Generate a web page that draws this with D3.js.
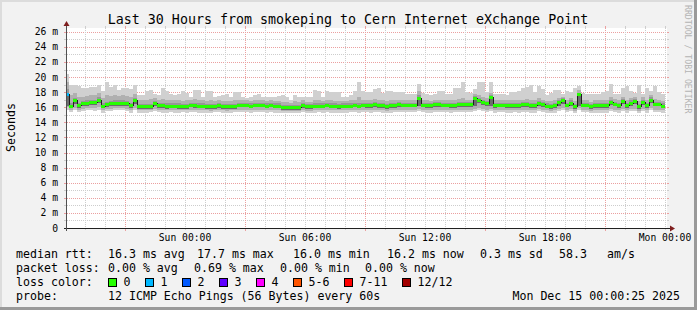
<!DOCTYPE html>
<html><head><meta charset="utf-8">
<script src="https://cdn.jsdelivr.net/npm/d3@7"></script>
<style>
html,body{margin:0;padding:0;background:#f2f2f2;}
svg{display:block;}
text{font-family:"DejaVu Sans Mono",monospace;fill:#000;}
</style>
</head><body>
<svg id="chart" width="697" height="310"></svg>
<script>
// ---------------- data ----------------
const titleText = "Last 30 Hours from smokeping to Cern Internet eXchange Point";
const yAxisTitle = "Seconds";
const watermark = "RRDTOOL / TOBI OETIKER";
const yTickValues = [0,2,4,6,8,10,12,14,16,18,20,22,24,26];
const yTickLabels = ["0","2 m","4 m","6 m","8 m","10 m","12 m","14 m","16 m","18 m","20 m","22 m","24 m","26 m"];
const xLabelTimes = ["2025-12-14T00:00:00Z","2025-12-14T06:00:00Z","2025-12-14T12:00:00Z","2025-12-14T18:00:00Z","2025-12-15T00:00:00Z"];
const xLabelTexts = ["Sun 00:00","Sun 06:00","Sun 12:00","Sun 18:00","Mon 00:00"];
const rangeStart = "2025-12-13T18:00:00Z";
const rangeEnd = "2025-12-15T00:00:00Z";
const stepMinutes = 12;

// median RTT per 12-minute step (ms)
const median = [
17.7,16.2,16.9,16.3,16.5,16.6,16.7,16.7,17.0,16.2,
16.4,16.5,16.6,16.6,16.6,16.5,16.3,16.9,16.1,16.1,
16.1,16.1,16.5,16.3,16.3,16.2,16.2,16.2,16.2,16.1,
16.1,16.35,16.3,16.2,16.2,16.1,16.1,16.1,16.25,16.1,
16.1,16.1,16.1,16.35,16.35,16.35,16.2,16.35,16.35,16.35,
16.2,16.35,16.2,16.2,16.05,16.05,16.05,16.05,16.05,16.25,
16.1,16.1,16.2,16.2,16.2,16.35,16.2,16.2,16.15,16.2,
16.2,16.2,16.35,16.2,16.35,16.25,16.25,16.4,16.25,16.25,
16.1,16.25,16.25,16.4,16.35,16.35,16.35,16.35,17.2,16.35,
16.25,16.25,16.4,16.4,16.35,16.35,16.25,16.25,16.4,16.4,
16.4,16.4,17.2,16.95,16.7,16.5,17.3,16.25,16.35,16.35,
16.25,16.25,16.25,16.25,16.4,16.4,16.25,16.25,16.55,16.4,
16.2,16.1,16.25,16.65,16.9,16.35,16.6,16.15,17.7,16.35,
16.35,16.1,16.25,16.25,16.25,16.25,16.7,16.45,16.25,16.8,
16.25,16.6,16.8,16.15,16.7,16.25,17.0,16.45,16.45,16.2
];
// lost pings (of 12) per step
const loss = [
1,0,0,0,0,0,0,0,0,0, 0,0,0,0,0,0,0,0,0,0, 0,0,0,0,0,0,0,0,0,0,
0,0,0,0,0,0,0,0,0,0, 0,0,0,0,0,0,0,0,0,0, 0,0,0,0,0,0,0,0,0,0,
0,0,0,0,0,0,0,0,0,0, 0,0,0,0,0,0,0,0,0,0, 0,0,0,0,0,0,0,0,0,0,
0,0,0,0,0,0,0,0,0,0, 0,0,0,0,0,0,0,0,0,0, 0,0,0,0,0,0,0,0,0,0,
0,0,0,0,0,0,0,0,0,0, 0,0,0,0,0,0,0,0,0,0, 0,0,0,0,0,0,0,0,0,0
];
// smoke: slowest ping (p12)
const smokeMax = [
20.4,19.0,19.0,18.8,18.5,18.5,18.7,18.7,18.9,18.1,
19.4,18.7,18.9,18.3,18.5,18.5,18.4,19.0,17.6,17.6,
18.2,18.3,17.8,17.6,18.5,18.1,17.8,17.6,17.7,18.1,
17.9,17.4,18.3,18.3,17.4,18.2,18.2,17.4,17.5,17.6,
17.8,17.3,18.0,18.0,17.4,17.2,17.3,17.6,17.7,17.4,
17.4,17.4,17.4,17.5,17.6,17.3,17.0,17.6,17.4,17.4,
17.3,17.3,18.3,18.2,17.4,18.1,18.0,18.0,18.0,17.4,
17.4,17.6,18.2,19.3,18.2,18.0,18.0,18.4,18.6,17.9,
18.1,18.1,18.0,18.0,18.0,17.8,17.7,17.7,19.1,17.9,
17.7,17.6,17.7,18.1,18.1,17.7,17.7,18.6,18.5,19.3,
18.0,17.9,18.4,19.4,19.4,18.0,19.4,17.7,17.7,17.7,
17.6,18.0,18.0,18.1,18.5,18.7,19.0,18.0,18.8,18.4,
17.6,17.9,18.3,18.3,17.8,18.1,18.0,18.5,18.8,17.9,
17.7,17.7,17.7,17.7,18.0,18.2,19.1,17.8,17.8,18.5,
18.8,18.1,17.9,19.0,17.7,18.5,18.1,18.8,18.0,17.8
];
// smoke: 11th ping (p11)
const smokeHi = [
19.3,17.6,17.9,17.3,17.4,17.5,17.6,17.6,17.9,17.2,
17.6,17.5,17.6,17.5,17.6,17.5,17.3,17.8,16.9,16.9,
17.0,17.1,17.2,17.0,17.1,16.9,16.9,16.9,17.0,16.8,
16.9,17.0,17.1,16.9,16.9,16.8,16.9,16.8,16.9,16.8,
16.8,16.8,16.9,17.0,16.9,16.9,16.8,17.0,17.0,16.9,
16.8,16.9,16.8,16.8,16.7,16.7,16.6,16.8,16.7,16.9,
16.7,16.7,16.9,16.9,16.8,17.0,16.9,16.8,16.8,16.8,
16.8,16.9,17.0,17.4,16.9,16.9,16.9,17.1,16.9,16.9,
16.8,16.9,16.9,17.0,17.0,16.9,16.9,16.9,18.2,16.9,
16.9,16.8,17.0,17.0,16.9,16.9,16.9,17.0,17.1,17.2,
17.0,17.0,17.8,17.6,17.4,17.2,17.9,16.9,16.9,16.9,
16.9,16.9,16.9,16.9,17.0,17.1,17.0,16.9,17.2,17.0,
16.8,16.8,16.9,17.2,17.4,16.9,17.2,16.8,18.3,16.9,
16.9,16.7,16.9,16.9,16.9,16.9,17.3,17.1,16.9,17.4,
16.9,17.2,17.4,16.8,17.3,16.9,17.6,17.1,17.0,16.8
];
// smoke: 10th ping (p10)
const coreHi = [
18.4,16.5,17.2,16.6,16.8,16.9,17.0,17.0,17.3,16.5,
16.7,16.8,16.9,16.9,16.9,16.8,16.6,17.2,16.4,16.4,
16.4,16.4,16.8,16.6,16.6,16.5,16.5,16.5,16.5,16.4,
16.4,16.6,16.6,16.5,16.5,16.4,16.4,16.4,16.5,16.4,
16.4,16.4,16.4,16.6,16.6,16.6,16.5,16.6,16.6,16.6,
16.5,16.6,16.5,16.5,16.3,16.3,16.3,16.3,16.3,16.5,
16.4,16.4,16.5,16.5,16.5,16.6,16.5,16.5,16.4,16.5,
16.5,16.5,16.6,16.5,16.6,16.5,16.5,16.7,16.5,16.5,
16.4,16.5,16.5,16.7,16.6,16.6,16.6,16.6,17.6,16.6,
16.5,16.5,16.7,16.7,16.6,16.6,16.5,16.5,16.7,16.7,
16.7,16.7,17.5,17.2,17.0,16.8,17.6,16.5,16.6,16.6,
16.5,16.5,16.5,16.5,16.7,16.7,16.5,16.5,16.8,16.7,
16.5,16.4,16.5,16.9,17.2,16.6,16.9,16.4,17.9,16.6,
16.6,16.4,16.5,16.5,16.5,16.5,17.0,16.7,16.5,17.1,
16.5,16.9,17.1,16.4,17.0,16.5,17.3,16.7,16.7,16.5
];
// smoke: 3rd ping (p3)
const coreLo = [
16.2,15.9,16.4,15.9,16.1,16.2,16.3,16.3,16.5,15.9,
16.0,16.1,16.2,16.2,16.2,16.1,15.9,16.4,15.8,15.8,
15.8,15.8,16.1,15.9,15.9,15.8,15.9,15.9,15.8,15.8,
15.8,16.0,15.9,15.9,15.9,15.8,15.8,15.8,15.9,15.8,
15.8,15.8,15.8,16.0,16.0,16.0,15.9,16.0,16.0,16.0,
15.9,16.0,15.9,15.9,15.7,15.7,15.7,15.7,15.7,15.9,
15.8,15.8,15.9,15.9,15.9,16.0,15.9,15.9,15.8,15.9,
15.9,15.9,16.0,15.9,16.0,15.9,15.9,16.0,15.9,15.9,
15.8,15.9,15.9,16.0,16.0,16.0,16.0,16.0,16.1,16.0,
15.9,15.9,16.0,16.0,16.0,16.0,15.9,15.9,16.0,16.0,
16.0,16.0,16.1,16.5,16.3,16.1,16.1,15.9,16.0,16.0,
15.9,15.9,15.9,15.9,16.0,16.0,15.9,15.9,16.2,16.0,
15.9,15.8,15.9,16.2,16.4,16.0,16.2,15.8,16.2,16.0,
16.0,15.8,15.9,15.9,15.9,15.9,16.3,16.1,15.9,16.4,
15.9,16.2,16.4,15.8,16.3,15.9,16.5,16.1,16.1,15.9
];
// smoke: 2nd ping (p2)
const smokeLo = [
16.0,15.7,15.9,15.7,15.8,15.9,15.9,15.9,16.0,15.6,
15.8,15.8,15.9,15.9,15.9,15.8,15.6,15.9,15.6,15.6,
15.6,15.6,15.8,15.6,15.6,15.6,15.6,15.6,15.6,15.6,
15.6,15.7,15.6,15.6,15.6,15.6,15.5,15.6,15.7,15.6,
15.5,15.6,15.6,15.7,15.7,15.7,15.6,15.7,15.7,15.7,
15.6,15.7,15.6,15.6,15.5,15.5,15.5,15.5,15.5,15.6,
15.5,15.5,15.6,15.6,15.6,15.7,15.6,15.6,15.6,15.6,
15.6,15.6,15.7,15.6,15.7,15.6,15.6,15.7,15.6,15.6,
15.5,15.6,15.6,15.7,15.7,15.7,15.7,15.7,15.8,15.7,
15.6,15.6,15.7,15.7,15.7,15.7,15.6,15.6,15.7,15.7,
15.7,15.7,15.8,15.9,15.8,15.7,15.8,15.6,15.7,15.7,
15.6,15.6,15.6,15.6,15.7,15.7,15.6,15.6,15.8,15.7,
15.6,15.5,15.6,15.8,15.9,15.7,15.8,15.5,15.9,15.7,
15.7,15.5,15.6,15.6,15.6,15.6,15.8,15.7,15.6,15.8,
15.6,15.8,15.8,15.5,15.8,15.6,15.9,15.7,15.7,15.6
];
// smoke: fastest ping (p1)
const smokeMin = [
15.7,15.4,15.6,15.4,15.5,15.6,15.6,15.5,15.7,15.3,
15.5,15.5,15.6,15.6,15.6,15.5,15.3,15.6,15.3,15.3,
15.3,15.4,15.5,15.4,15.3,15.3,15.4,15.3,15.3,15.4,
15.3,15.4,15.4,15.3,15.3,15.3,15.3,15.4,15.4,15.3,
15.3,15.3,15.4,15.4,15.4,15.4,15.3,15.4,15.4,15.4,
15.3,15.4,15.3,15.3,15.2,15.3,15.3,15.2,15.3,15.4,
15.3,15.3,15.3,15.4,15.3,15.4,15.3,15.3,15.3,15.3,
15.3,15.4,15.4,15.3,15.4,15.4,15.3,15.4,15.4,15.3,
15.3,15.3,15.4,15.4,15.4,15.4,15.4,15.4,15.5,15.4,
15.3,15.3,15.4,15.4,15.4,15.4,15.3,15.4,15.4,15.4,
15.4,15.4,15.5,15.6,15.5,15.4,15.5,15.3,15.4,15.4,
15.3,15.3,15.4,15.3,15.4,15.4,15.3,15.3,15.5,15.4,
15.3,15.2,15.3,15.5,15.6,15.4,15.5,15.3,15.6,15.4,
15.4,15.2,15.3,15.3,15.3,15.3,15.5,15.4,15.3,15.5,
15.3,15.5,15.5,15.3,15.5,15.3,15.6,15.4,15.4,15.3
];

// loss colour legend
const lossLabels = ["0","1","2","3","4","5-6","7-11","12/12"];
const lossColors = ["#26ff00","#00b8ff","#0059ff","#5e00ff","#ff00ff","#ff5500","#ff0000","#a10000"];
const lossLegendBoxX = [108,145,182,219,256,293,344,402];

// legend text rows
const legendRows = [
  {y:258, items:[["median rtt:",16],["16.3 ms avg",108],["17.7 ms max",197],["16.0 ms min",293],["16.2 ms now",387],["0.3 ms sd",480],["58.3",559],["am/s",607]]},
  {y:272, items:[["packet loss:",16],["0.00 % avg",108],["0.69 % max",194],["0.00 % min",280],["0.00 % now",365]]},
  {y:286, items:[["loss color:",16]]},
  {y:300, items:[["probe:",16],["12 ICMP Echo Pings (56 Bytes) every 60s",108]]}
];
const dateStamp = "Mon Dec 15 00:00:25 2025";

// ---------------- drawing ----------------
[median,loss,smokeMax,smokeHi,coreHi,coreLo,smokeLo,smokeMin].forEach((a,i)=>{
  if (a.length !== 150) throw new Error("array "+i+" has length "+a.length);
});

const W = 697, H = 310;
const X0 = 67, X1 = 667, Y0 = 228, Y1 = 28;
const svg = d3.select("#chart");

const x = d3.scaleUtc().domain([new Date(rangeStart), new Date(rangeEnd)]).range([65, 665]);
const y = d3.scaleLinear().domain([0, 26.5]).range([Y0, Y1]);

// background & frame
svg.append("rect").attr("x",0).attr("y",0).attr("width",W).attr("height",H).attr("fill","#f2f2f2");
svg.append("rect").attr("x",0).attr("y",0).attr("width",W).attr("height",2).attr("fill","#dcdcdc");
svg.append("rect").attr("x",0).attr("y",0).attr("width",2).attr("height",H).attr("fill","#dcdcdc");
svg.append("rect").attr("x",W-3).attr("y",0).attr("width",3).attr("height",H).attr("fill","#9a9a9a");
svg.append("rect").attr("x",0).attr("y",H-3).attr("width",W).attr("height",3).attr("fill","#9a9a9a");

// canvas
svg.append("rect").attr("x",X0).attr("y",Y1).attr("width",X1-X0).attr("height",Y0-Y1).attr("fill","#ffffff");

svg.append("clipPath").attr("id","plotclip").append("rect")
  .attr("x",X0).attr("y",Y1).attr("width",X1-X0).attr("height",Y0-Y1);

const t0 = new Date(rangeStart).getTime();
const stepMs = stepMinutes*60*1000;
const steps = median.map((m,i)=>({
  i, x0: x(new Date(t0 + i*stepMs)), x1: x(new Date(t0 + (i+1)*stepMs)),
  med: m, loss: loss[i],
  mx: smokeMax[i], hi: smokeHi[i], chi: coreHi[i], clo: coreLo[i], lo: smokeLo[i], mn: smokeMin[i]
}));

// grid (under the data)
const grid = svg.append("g").attr("shape-rendering","crispEdges");
const minorCol = "#cdcdcd", majorCol = "#eba0a0";
d3.range(1,27).forEach(v=>{
  const yy = Math.round(y(v)) + 0.5;
  const major = v % 2 === 0;
  const col = major ? majorCol : minorCol;
  grid.append("line").attr("x1",X0).attr("x2",X1).attr("y1",yy).attr("y2",yy)
    .attr("stroke",col).attr("stroke-dasharray","1,1");
  grid.append("line").attr("x1",X0-3).attr("x2",X0).attr("y1",yy).attr("y2",yy).attr("stroke",col);
  grid.append("line").attr("x1",X1).attr("x2",X1+2).attr("y1",yy).attr("y2",yy).attr("stroke",col);
});
d3.utcHour.range(new Date(rangeStart), new Date(new Date(rangeEnd).getTime()+1)).forEach(t=>{
  const xx = Math.round(x(t)) + 0.5;
  if (xx < X0 + 1 || xx > X1) return;
  const major = t.getUTCHours() % 6 === 3;
  const col = major ? majorCol : minorCol;
  grid.append("line").attr("x1",xx).attr("x2",xx).attr("y1",Y1).attr("y2",Y0)
    .attr("stroke",col).attr("stroke-dasharray","1,1");
  grid.append("line").attr("x1",xx).attr("x2",xx).attr("y1",Y0).attr("y2",Y0+(major?3:2)).attr("stroke",col);
  grid.append("line").attr("x1",xx).attr("x2",xx).attr("y1",Y1-2).attr("y2",Y1).attr("stroke",col);
});

const plot = svg.append("g").attr("clip-path","url(#plotclip)");

function layer(lowKey, highKey, color){
  plot.append("g").selectAll("rect").data(steps).join("rect")
    .attr("x", d=>d.x0).attr("width", d=>d.x1-d.x0)
    .attr("y", d=>y(d[highKey])).attr("height", d=>y(d[lowKey])-y(d[highKey]))
    .attr("fill", color).attr("shape-rendering","crispEdges");
}
layer("mn","mx","#d0d0d0");
layer("lo","hi","#b0b0b0");
layer("clo","chi","#969696");
layer("clo","med","#6c6c6c");

// median line (dark) + loss-coloured band
const medLine = d3.line().x(d=>d[0]).y(d=>d[1]).curve(d3.curveStepAfter);
const medPts = steps.map(d=>[d.x0, Math.round(y(d.med))+0.5]);
medPts.push([steps[steps.length-1].x1, Math.round(y(median[median.length-1]))+0.5]);
plot.append("path").attr("d", medLine(medPts)).attr("fill","none")
  .attr("stroke","#202020").attr("stroke-width",1).attr("shape-rendering","crispEdges");

function lossIndex(l){
  if (l <= 4) return l;
  if (l <= 6) return 5;
  if (l <= 11) return 6;
  return 7;
}
plot.append("g").selectAll("rect").data(steps).join("rect")
  .attr("x", d=>d.x0).attr("width", d=>d.x1-d.x0)
  .attr("y", d=>Math.round(y(d.med))-1).attr("height",3)
  .attr("fill", d=>lossColors[lossIndex(d.loss)]).attr("shape-rendering","crispEdges");

// axes
svg.append("line").attr("x1",X0-3).attr("x2",X1+4).attr("y1",Y0+0.5).attr("y2",Y0+0.5)
  .attr("stroke","#202020").attr("shape-rendering","crispEdges");
svg.append("line").attr("x1",X0-0.5).attr("x2",X0-0.5).attr("y1",Y0+3).attr("y2",Y1-4)
  .attr("stroke","#505050").attr("shape-rendering","crispEdges");
svg.append("path").attr("d",`M${X0-3.5},${Y1-2} L${X0+2.5},${Y1-2} L${X0-0.5},${Y1-7} Z`).attr("fill","#7f1f1f");
svg.append("path").attr("d",`M${X1+3},${Y0-2.5} L${X1+3},${Y0+3.5} L${X1+8},${Y0+0.5} Z`).attr("fill","#7f1f1f");

// y labels
svg.append("g").selectAll("text").data(yTickValues).join("text")
  .attr("x",58).attr("y",v=>y(v)+3.5).attr("text-anchor","end")
  .style("font-size","9.7px").text((v,i)=>yTickLabels[i]);

// x labels
svg.append("g").selectAll("text").data(xLabelTimes).join("text")
  .attr("x",t=>x(new Date(t))).attr("y",240.5).attr("text-anchor","middle")
  .style("font-size","9.7px").text((t,i)=>xLabelTexts[i]);

// title
svg.append("text").attr("x",348).attr("y",24).attr("text-anchor","middle")
  .style("font-size","13.3px").text(titleText);

// y axis title
svg.append("text").attr("transform","translate(15,127.5) rotate(-90)").attr("text-anchor","middle")
  .style("font-size","11.6px").text(yAxisTitle);

// watermark
svg.append("text").attr("transform","translate(685,5) rotate(90)").attr("text-anchor","start")
  .style("font-size","8.2px").style("fill","#b4b4b4").text(watermark);

// legend
const leg = svg.append("g").style("font-size","11.6px");
legendRows.forEach(r=>{
  r.items.forEach(([txt,xx])=>{
    leg.append("text").attr("x",xx).attr("y",r.y).text(txt);
  });
});
lossLabels.forEach((lab,i)=>{
  leg.append("rect").attr("x",lossLegendBoxX[i]+0.5).attr("y",278.5).attr("width",8).attr("height",8)
    .attr("fill",lossColors[i]).attr("stroke","#000").attr("shape-rendering","crispEdges");
  leg.append("text").attr("x",lossLegendBoxX[i]+15.5).attr("y",286).text(lab);
});
leg.append("text").attr("x",680).attr("y",300).attr("text-anchor","end").text(dateStamp);
</script>
</body></html>
